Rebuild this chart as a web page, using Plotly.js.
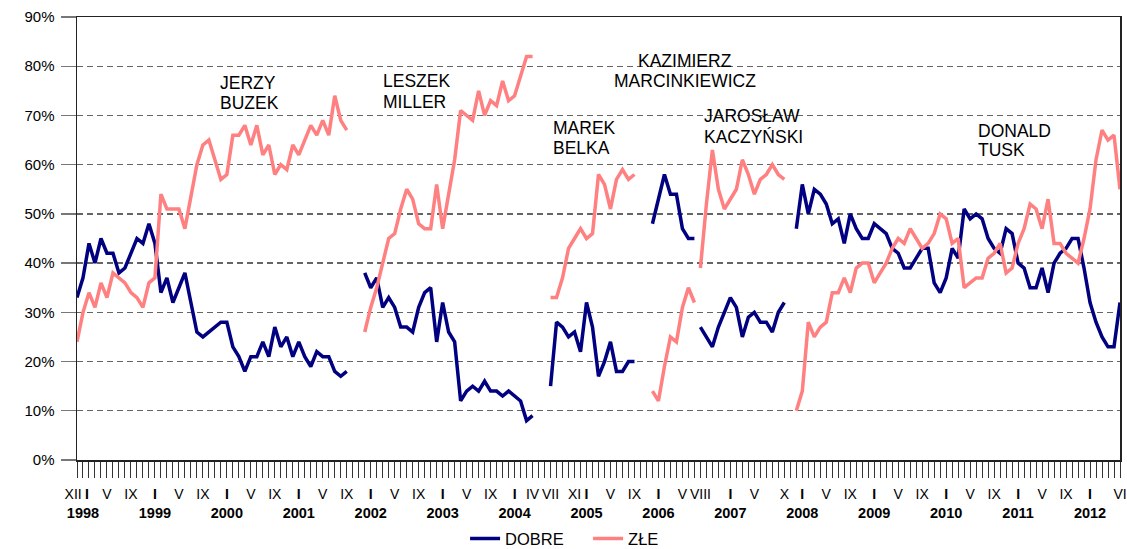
<!DOCTYPE html>
<html>
<head>
<meta charset="utf-8">
<script src="https://cdn.plot.ly/plotly-3.0.1.min.js"></script>
<style>
html,body{margin:0;padding:0;background:#fff;}
#chart{width:1127px;height:549px;}
</style>
</head>
<body>
<div id="chart"></div>
<script>
// Month index: 0 = XII 1997 ... 174 = VI 2012
const monthCount = 175;

// First month index of each government's series
const govStart = [0, 48, 79, 96, 104, 120];

// DOBRE (good) – per government
const dobreBuzek = [33,37,44,40,45,42,42,38,39,42,45,44,48,44,34,37,32,35,38,32,26,25,26,27,28,28,23,21,18,21,21,24,21,27,23,25,21,24,21,19,22,21,21,18,17,18];
const dobreMiller = [38,35,37,31,33,31,27,27,26,31,34,35,24,32,26,24,12,14,15,14,16,14,14,13,14,13,12,8,9];
const dobreBelka = [15,28,27,25,26,22,32,27,17,20,24,18,18,20,20];
const dobreMarcinkiewicz = [48,53,58,54,54,47,45,45];
const dobreKaczynski = [27,25,23,27,30,33,31,25,29,30,28,28,26,30,32];
const dobreTusk = [47,56,50,55,54,52,48,49,44,50,47,45,45,48,47,46,43,42,39,39,41,43,43,36,34,37,43,41,51,49,50,49,45,43,42,47,46,40,39,35,35,39,34,40,42,43,45,45,39,32,28,25,23,23,32];

// ZŁE (bad) – per government
const zleBuzek = [24,30,34,31,36,33,38,37,36,34,33,31,36,37,54,51,51,51,47,54,60,64,65,61,57,58,66,66,68,64,68,62,64,58,60,59,64,62,65,68,66,69,66,74,69,67];
const zleMiller = [26,31,35,40,45,46,51,55,53,48,47,47,56,47,54,61,71,70,69,75,70,73,72,77,73,74,78,82,82];
const zleBelka = [33,33,37,43,45,47,45,46,58,56,51,57,59,57,58];
const zleMarcinkiewicz = [14,12,19,25,24,31,35,32];
const zleKaczynski = [39,52,63,55,51,53,55,61,58,54,57,58,60,58,57];
const zleTusk = [10,14,28,25,27,28,34,34,37,34,39,40,40,36,38,40,43,45,44,47,45,43,44,46,50,49,44,45,35,36,37,37,41,42,44,38,39,44,47,52,51,47,53,44,44,42,41,40,45,51,61,67,65,66,55];

// Labelled months on the category axis
const labelIdx   = [0,1,5,9,13,17,21,25,29,33,37,41,45,49,53,57,61,65,69,73,76,79,83,85,89,93,97,101,104,109,113,118,121,125,129,133,137,141,145,149,153,157,161,165,169,174];
const labelMonth = ['XII','I','V','IX','I','V','IX','I','V','IX','I','V','IX','I','V','IX','I','V','IX','I','IV','VII','XI','I','V','IX','I','V','VIII','I','V','X','I','V','IX','I','V','IX','I','V','IX','I','V','IX','I','VI'];
const labelYear  = ['','1998','','','1999','','','2000','','','2001','','','2002','','','2003','','','2004','','','','2005','','','2006','','','2007','','','2008','','','2009','','','2010','','','2011','','','2012',''];

// Value-axis ticks
const yTickVals = [0,10,20,30,40,50,60,70,80,90];
const yTickText = ['0%','10%','20%','30%','40%','50%','60%','70%','80%','90%'];

// Government name labels (one entry per text line)
const govLabelLines = ['JERZY','BUZEK','LESZEK','MILLER','MAREK','BELKA','KAZIMIERZ','MARCINKIEWICZ','JAROSŁAW','KACZYŃSKI','DONALD','TUSK'];

const seriesNames = ['DOBRE','ZŁE'];

// ---------- build ----------
const FONT = 'Liberation Sans, Arial, sans-serif';
const dobre = [dobreBuzek, dobreMiller, dobreBelka, dobreMarcinkiewicz, dobreKaczynski, dobreTusk];
const zle = [zleBuzek, zleMiller, zleBelka, zleMarcinkiewicz, zleKaczynski, zleTusk];

function segTraces(list, name, color, group) {
  return list.map((vals, k) => ({
    type: 'scatter', mode: 'lines',
    x: vals.map((_, j) => govStart[k] + j),
    y: vals,
    name: name, legendgroup: group, showlegend: k === 0,
    line: {color: color, width: 3.5},
    hoverinfo: 'skip'
  }));
}
const traces = segTraces(dobre, seriesNames[0], '#000080', 'd')
  .concat(segTraces(zle, seriesNames[1], '#FF8080', 'z'));

const tickvals = [], ticktext = [];
for (let i = 0; i < monthCount; i++) {
  tickvals.push(i);
  const p = labelIdx.indexOf(i);
  if (p < 0) { ticktext.push(''); continue; }
  let m = labelMonth[p] === 'I' ? '<b>I</b>' : labelMonth[p];
  if (i === 0) m = m + '&nbsp;&nbsp;';         // nudge first label left
  if (i === 1) m = '&nbsp;&nbsp;' + m;         // nudge first January right
  if (labelYear[p]) m += '<br><b><span style="font-size:14.5px">' + labelYear[p] + '</span></b>';
  ticktext.push(m);
}

// label placement (x in month index, y in %, anchored)
const gl = [
  [23.5, 76.6, 'left'], [23.5, 72.5, 'left'],
  [50.75, 76.9, 'left'], [50.75, 72.8, 'left'],
  [79.1, 67.45, 'left'], [79.1, 63.4, 'left'],
  [101.5, 81.0, 'center'], [101.5, 76.9, 'center'],
  [104.3, 69.8, 'left'], [104.3, 65.7, 'left'],
  [149.9, 66.9, 'left'], [149.9, 62.9, 'left']
];
const annotations = govLabelLines.map((t, k) => ({
  text: t, x: gl[k][0], y: gl[k][1], xref: 'x', yref: 'y',
  xanchor: gl[k][2], yanchor: 'middle', showarrow: false,
  font: {family: FONT, size: 17.5, color: '#000'}
}));

const layout = {
  width: 1127, height: 549,
  margin: {l: 77, r: 7, t: 17, b: 89, autoexpand: false},
  paper_bgcolor: '#fff', plot_bgcolor: '#fff',
  font: {family: FONT, color: '#000'},
  showlegend: true,
  legend: {orientation: 'h', x: 0.49, xanchor: 'center', y: -0.178, yanchor: 'middle',
           entrywidth: 78, entrywidthmode: 'pixels',
           font: {family: FONT, size: 16.5, color: '#000'}, traceorder: 'normal'},
  xaxis: {
    range: [0, 174], tickmode: 'array', tickvals: tickvals, ticktext: ticktext,
    tickangle: 0, ticks: 'outside', ticklen: 16, tickwidth: 1, tickcolor: '#333',
    ticklabelstandoff: 5, automargin: false,
    tickfont: {family: FONT, size: 14, color: '#000'},
    showgrid: false, zeroline: false, showline: true, mirror: true,
    linecolor: '#222', linewidth: 1.5, fixedrange: true
  },
  yaxis: {
    range: [0, 90], tickmode: 'array', tickvals: yTickVals, ticktext: yTickText,
    ticks: 'outside', ticklen: 15, tickwidth: 1.3, tickcolor: '#777',
    ticklabelstandoff: 3, automargin: false,
    tickfont: {family: FONT, size: 15, color: '#000'},
    showgrid: true, gridcolor: '#666', gridwidth: 1.3, griddash: '6px,4px',
    zeroline: false, showline: true, mirror: true, linecolor: '#222', linewidth: 1.5,
    fixedrange: true
  },
  annotations: annotations
};

Plotly.newPlot('chart', traces, layout, {staticPlot: true, displayModeBar: false});
</script>
</body>
</html>
